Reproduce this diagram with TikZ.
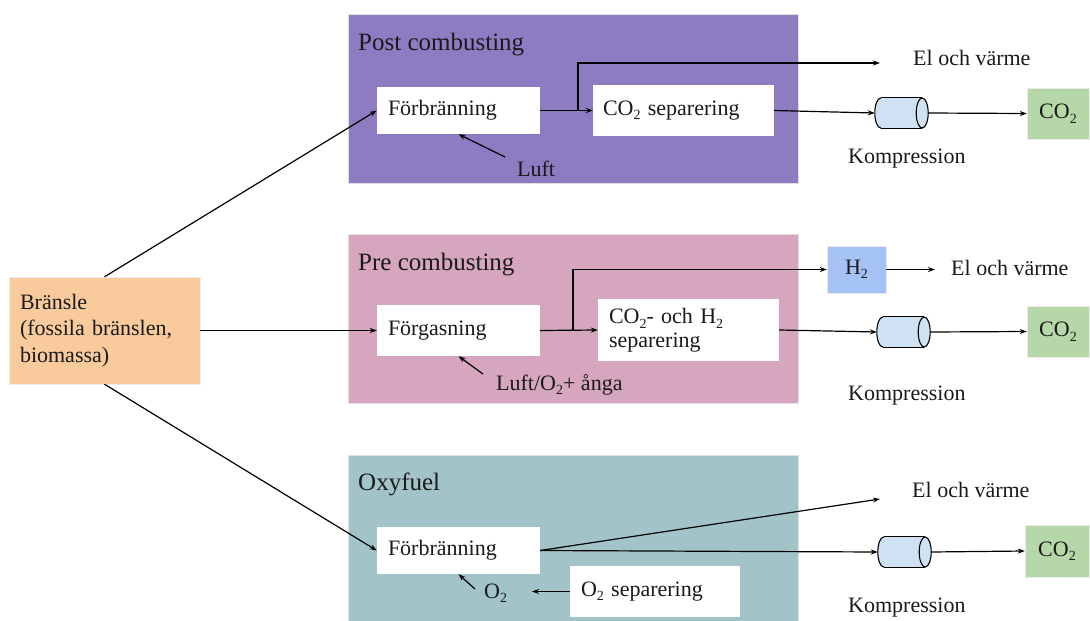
\documentclass[tikz,border=0pt]{standalone}
\usepackage{fontspec}
\setmainfont{Liberation Serif}
\usetikzlibrary{arrows.meta,calc}
\definecolor{postc}{HTML}{8E7CC3}
\definecolor{prec}{HTML}{D5A6BD}
\definecolor{oxyc}{HTML}{A2C4C9}
\definecolor{fuelc}{HTML}{F9CB9C}
\definecolor{co2c}{HTML}{B6D7A8}
\definecolor{h2c}{HTML}{A4C2F4}
\definecolor{compc}{HTML}{CFE2F3}
\definecolor{txt}{HTML}{1A1A1A}
\newcommand\mysub[1]{\raisebox{-0.45ex}{\fontsize{14}{14}\selectfont #1}}
\newcommand\drawcomp[1]{%
  \fill[compc,draw=black,line width=1.1] ($(#1.west)+(6,0)$) ellipse (6pt and 15pt);
  \fill[compc] ($(#1.north west)+(6,0)$) rectangle ($(#1.south east)+(-6,0)$);
  \draw[line width=1.1] ($(#1.north west)+(6,0)$) -- ($(#1.north east)+(-6,0)$)
                        ($(#1.south west)+(6,0)$) -- ($(#1.south east)+(-6,0)$);
  \filldraw[fill=compc,draw=black,line width=1.1] ($(#1.east)+(-6,0)$) ellipse (6pt and 15pt);
}
\begin{document}
\begin{tikzpicture}[x=1pt,y=-1pt,
  every node/.style={text=txt,font=\fontsize{22}{26.5}\selectfont},
  region/.style={draw=black!12,line width=1},
  title/.style={anchor=base west,inner sep=0,font=\fontsize{25}{30}\selectfont},
  lbl/.style={anchor=base west,inner sep=0},
  wbox/.style={fill=white,inner ysep=0,align=left,inner xsep=11},
  cbox/.style={fill=co2c,draw=black!8,inner sep=0,minimum width=62,minimum height=51},
  comp/.style={inner sep=0,minimum width=53,minimum height=30},
  arr/.style={line width=1.2,-{Stealth[length=7pt,width=5pt]}},
  ln/.style={line width=1.2}]
\useasboundingbox (0,0) rectangle (1090,621);

% regions
\fill[postc,region] (348,14) rectangle (798,183);
\fill[prec,region] (348,234) rectangle (798,403);
\fill[oxyc,region] (348,455) rectangle (798,640);
\node[title] (t1) at (358,50) {Post combusting};
\node[title] (t2) at (358,270) {Pre combusting};
\node[title] (t3) at (358,490) {Oxyfuel};

% fuel
\node[fill=fuelc,draw=black!8,inner xsep=11,inner ysep=0,text width=169,minimum height=107,align=left] (brans) at (104.5,330.5) {Bränsle\\(fossila bränslen,\\biomassa)};

% post combustion
\node[wbox,text width=141,minimum height=47] (burn1) at (458.5,110.5) {Förbränning};
\node[wbox,inner xsep=10,text width=161,minimum height=51] (sep1) at (683.5,110.5) {CO\mysub{2} separering};
\node[comp] (comp1) at (901.5,113) {};
\drawcomp{comp1}
\node[cbox] (co2a) at (1058,113.5) {CO\mysub{2}};
\node[lbl] (el1) at (913,65) {El och värme};
\node[lbl] (k1) at (848,163) {Kompression};
\node[lbl] (luft) at (517,176) {Luft};
\coordinate (luftA) at (505,157);
\coordinate (br1) at (578,110.5);
\coordinate (el1a) at (880,63);
\draw[arr] (brans.north) -- (burn1.west);
\draw[arr] (burn1.east) -- (sep1.west);
\draw[arr] (br1) |- (el1a);
\draw[arr] (sep1.east) -- (comp1.west);
\draw[arr] (comp1.east) -- (co2a.west);
\draw[arr] (luftA) -- (burn1.south);

% pre combustion
\node[wbox,text width=141,minimum height=51] (burn2) at (458.5,330.5) {Förgasning};
\node[wbox,text width=159,minimum height=62] (sep2) at (688.5,330) {CO\mysub{2}- och H\mysub{2}\\[-3pt]separering};
\node[fill=h2c,draw=black!8,inner sep=0,minimum width=59,minimum height=47] (h2) at (856.5,269.5) {H\mysub{2}};
\node[comp] (comp2) at (903.5,332) {};
\drawcomp{comp2}
\node[cbox] (co2b) at (1058,331.5) {CO\mysub{2}};
\node[lbl] (el2) at (951,275) {El och värme};
\node[lbl] (k2) at (848,400) {Kompression};
\node[lbl] (luft2) at (496,390) {Luft/O\mysub{2}+ ånga};
\coordinate (luft2A) at (483,374);
\coordinate (br2) at (573,330.5);
\coordinate (el2a) at (935,269.5);
\draw[arr] (brans.east) -- (burn2.west);
\draw[arr] (burn2.east) -- (sep2.west);
\draw[arr] (br2) |- (h2.west);
\draw[arr] (h2.east) -- (el2a);
\draw[arr] (sep2.east) -- (comp2.west);
\draw[arr] (comp2.east) -- (co2b.west);
\draw[arr] (luft2A) -- (burn2.south);

% oxyfuel
\node[wbox,text width=141,minimum height=47] (burn3) at (458.5,550.5) {Förbränning};
\node[wbox,text width=148,minimum height=51] (o2sep) at (655,591.5) {O\mysub{2} separering};
\node[comp] (comp3) at (904.5,552) {};
\drawcomp{comp3}
\node[cbox,minimum width=64,minimum height=52] (co2c) at (1057,551) {CO\mysub{2}};
\node[lbl] (el3) at (912,497) {El och värme};
\node[lbl] (k3) at (848,612) {Kompression};
\node[lbl] (o2) at (484,598) {O\mysub{2}};
\coordinate (o2A) at (475,589);
\coordinate (o2B) at (532,591.5);
\coordinate (el3a) at (880,499);
\draw[arr] (brans.south) -- (burn3.west);
\draw[arr] (burn3.east) -- (el3a);
\draw[arr] (burn3.east) -- (comp3.west);
\draw[arr] (comp3.east) -- (co2c.west);
\draw[arr] (o2A) -- (burn3.south);
\draw[arr] (o2sep.west) -- (o2B);
\end{tikzpicture}
\end{document}
